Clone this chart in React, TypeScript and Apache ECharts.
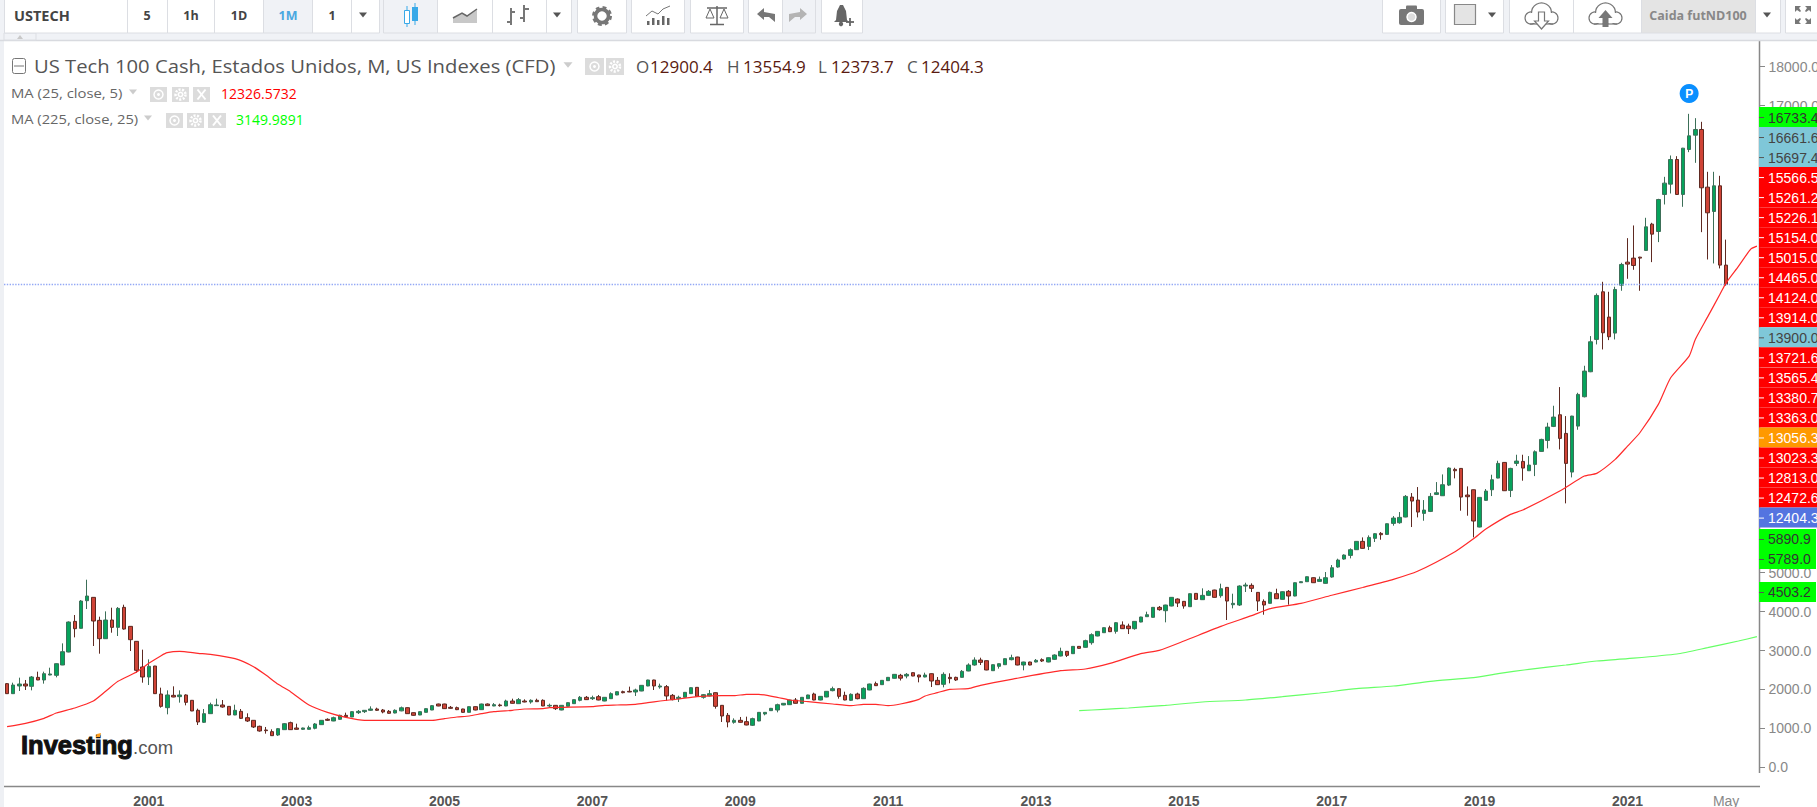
import React, { useEffect, useRef } from "react";
import * as echarts from "echarts";

// Monthly candles Feb 1999 .. May 2022 (index 0 .. 279)
const opens = [
2149,1892,2089,2140,2080,2311,2243,2371,2363,2628,
2962,3749,3570,4280,4366,3775,3304,3784,3595,4109,
3621,3236,2577,2320,2602,1883,1532,1849,1815,1858,
1721,1464,1156,1378,1584,1601,1566,1344,1438,1275,
1207,1053,959,916,830,967,1147,1010,976,976,
1002,1096,1233,1190,1233,1335,1293,1404,1430,1464,
1498,1472,1438,1395,1450,1532,1404,1344,1412,1472,
1626,1626,1541,1532,1498,1412,1558,1481,1626,1575,
1601,1575,1703,1635,1703,1678,1721,1721,1575,1592,
1472,1566,1635,1721,1798,1763,1815,1703,1763,1858,
1943,1952,1935,1960,2089,2243,2063,2072,1849,1763,
1798,1892,2054,1798,1832,1917,1592,1335,1156,1207,
1173,1079,1190,1370,1455,1472,1601,1609,1729,1644,
1763,1883,1729,1806,1969,2020,1849,1721,1883,1763,
1986,2149,2123,2226,2286,2363,2345,2431,2371,2320,
2405,2234,2131,2311,2311,2311,2474,2628,2756,2739,
2482,2594,2636,2765,2833,2628,2705,2705,2765,2705,
2773,2859,2979,2919,3107,3082,3201,3373,3458,3587,
3492,3655,3629,3561,3732,3869,3852,4109,4023,4143,
4323,4263,4126,4468,4306,4417,4554,4408,4622,4177,
4169,4657,4674,4494,4263,4212,4460,4314,4520,4400,
4742,4768,4871,4776,4725,4888,5145,5350,5444,5590,
5804,5675,5881,6009,5983,6266,6283,6429,6942,6865,
6523,6574,7011,6976,7250,7653,7678,6994,7130,6172,
6857,7130,7430,7832,7113,7807,7858,7618,7781,8115,
8397,8757,9056,8577,7584,8765,9519,10161,10991,12215,
11565,11154,12386,12977,13080,13105,13277,13953,13764,14715,
14980,15613,14715,15870,16238,16384,14903,14278,14937,12900.4,
];
const closes = [
1892,2114,2140,2089,2320,2243,2405,2397,2662,2970,
3732,3561,4271,4400,3758,3304,3784,3595,4083,3552,
3278,2491,2320,2594,1892,1566,1858,1806,1858,1669,
1447,1164,1378,1609,1601,1549,1344,1464,1258,1190,
1036,933,942,813,993,1121,967,976,1010,1019,
1113,1207,1207,1275,1335,1301,1430,1438,1464,1498,
1464,1421,1387,1464,1530,1378,1335,1430,1507,1584,
1575,1507,1515,1481,1412,1558,1472,1626,1584,1609,
1584,1703,1644,1738,1678,1721,1686,1575,1592,1507,
1592,1661,1738,1798,1738,1789,1729,1798,1892,1943,
1917,1935,1986,2106,2243,2089,2089,1832,1738,1798,
1926,2046,1823,1866,1892,1566,1318,1164,1207,1156,
1087,1250,1412,1412,1515,1609,1644,1729,1644,1798,
1858,1729,1823,1952,2020,1823,1729,1875,1763,2029,
2140,2097,2234,2311,2388,2290,2388,2345,2320,2371,
2217,2123,2388,2277,2243,2465,2628,2756,2696,2500,
2636,2662,2791,2816,2628,2705,2628,2748,2731,2816,
2885,2979,2876,3107,3056,3253,3407,3492,3587,3484,
3715,3561,3561,3749,3861,3920,4109,4049,4169,4366,
4220,4143,4460,4314,4417,4520,4366,4588,4271,4212,
4657,4682,4597,4271,4169,4494,4331,4511,4400,4742,
4768,4896,4742,4828,4871,5127,5324,5453,5590,5804,
5624,5906,6001,5975,6257,6403,6420,6959,6839,6557,
6608,6959,7053,7259,7687,7618,6942,6951,6326,6934,
7096,7387,7807,7105,7678,7867,7687,7764,8106,8423,
8740,8997,8449,7807,9022,9579,10178,10931,12121,11162,
11060,12275,12917,12926,12891,13080,13884,13696,14586,15006,
15613,14715,15904,16221,16384,14886,14244,14937,12900,12404.3,
];
const lows = [
1885,1885,1960,1986,1977,2240,2149,2365,2311,2625,
2955,3338,3565,4066,3116,2919,3300,3458,3373,3535,
2987,2431,2174,2114,1888,1532,1361,1800,1661,1592,
1443,1087,1138,1375,1575,1532,1340,1340,1241,1164,
1010,916,865,805,805,959,959,967,959,967,
976,1090,1190,1185,1216,1293,1290,1370,1395,1447,
1447,1387,1378,1387,1440,1375,1325,1340,1408,1468,
1570,1500,1505,1470,1405,1408,1465,1475,1578,1570,
1558,1570,1638,1630,1670,1635,1680,1570,1532,1472,
1465,1560,1630,1695,1730,1729,1722,1697,1757,1852,
1900,1930,1832,1955,2083,1986,2020,1712,1720,1678,
1790,1885,1815,1763,1823,1507,1164,1027,1121,1147,
1079,1061,1185,1335,1450,1412,1595,1602,1638,1638,
1757,1722,1722,1800,1952,1763,1722,1703,1746,1757,
1980,2089,2117,2220,2280,2230,2286,2340,2183,2311,
2063,2114,2054,2157,2217,2305,2468,2611,2628,2494,
2476,2534,2630,2748,2620,2491,2620,2696,2705,2698,
2756,2850,2833,2912,3050,3075,3150,3366,3450,3475,
3433,3555,3424,3535,3725,3861,3845,4023,3724,4136,
4117,4075,4120,4308,4300,4400,4360,4357,3784,4083,
4143,4503,4503,4015,3920,4205,4325,4308,4177,4393,
4735,4762,4735,4770,4718,4871,5127,5333,5367,5583,
5617,5581,5787,5846,5976,6206,6257,6422,6172,6420,
6334,6557,6994,6970,7225,7422,6591,6463,5906,6165,
6850,6968,7424,7098,6942,7738,7362,7612,7481,8108,
8192,8740,8166,6780,7447,8671,9502,10150,10863,10734,
10974,10991,12241,12549,12780,12241,13270,12977,13491,14458,
14740,14708,14398,15802,15528,13747,13045,12943,12815,12373.7,
];
const highs = [
2165,2174,2303,2243,2345,2457,2457,2559,2670,3184,
3749,3912,4297,4819,4370,3869,4006,4100,4117,4177,
3625,3240,3022,2773,2606,2046,1977,2080,1977,1875,
1725,1507,1498,1661,1763,1729,1570,1609,1498,1387,
1210,1070,1036,976,1010,1138,1173,1121,1019,1070,
1138,1210,1258,1301,1352,1404,1438,1472,1472,1566,
1532,1498,1472,1489,1560,1540,1410,1435,1515,1600,
1635,1632,1575,1560,1505,1565,1565,1635,1640,1650,
1635,1737,1763,1780,1746,1746,1763,1746,1635,1600,
1600,1670,1745,1832,1832,1840,1858,1805,1926,1950,
1969,2072,2020,2112,2250,2250,2149,2114,1883,1840,
1935,2055,2060,1883,1986,1925,1600,1395,1258,1293,
1301,1275,1420,1420,1525,1635,1652,1737,1780,1805,
1865,1917,1830,1960,2072,2028,1943,1900,1917,2054,
2148,2200,2242,2320,2397,2400,2422,2438,2378,2431,
2412,2320,2440,2414,2328,2500,2671,2825,2816,2746,
2644,2668,2798,2893,2840,2712,2712,2782,2799,2824,
2902,3073,2986,3114,3114,3278,3441,3500,3595,3638,
3732,3749,3689,3758,3868,3998,4116,4143,4176,4373,
4340,4271,4467,4475,4597,4554,4561,4717,4630,4460,
4674,4742,4725,4500,4314,4511,4588,4518,4554,4750,
4776,4904,4878,4900,5016,5196,5359,5470,5624,5811,
5906,5958,6018,6043,6264,6454,6557,6994,7045,7199,
6865,7045,7327,7524,7704,7695,7685,7216,7136,6940,
7148,7516,7875,7840,7695,8029,8029,7995,8141,8440,
8851,9288,9767,9022,9030,9621,10315,11077,12172,12472,
12215,12344,12960,13593,13919,13115,14116,13987,14603,15168,
15716,15699,15912,16786,16675,16581,15297,15297,15194,13554.9,
];

// [month index, value]
const ma25 = [
[0,1044],[3,1130],[6,1258],[8,1395],[11,1524],[14,1703],[16,1952],[18,2208],[21,2448],[23,2671],
[25,2868],[26,2945],[28,2979],[31,2928],[33,2902],[37,2790],[40,2585],[42,2371],[44,2131],[46,1943],
[49,1601],[52,1412],[55,1284],[58,1207],[64,1207],[69,1207],[71,1250],[73,1293],[75,1318],[77,1378],
[79,1430],[82,1464],[84,1498],[87,1507],[88,1532],[90,1541],[95,1558],[97,1592],[99,1601],[102,1618],
[104,1661],[106,1703],[109,1755],[112,1815],[116,1840],[118,1840],[120,1875],[122,1875],[125,1798],[127,1729],
[130,1686],[134,1626],[137,1584],[139,1618],[141,1618],[143,1584],[145,1626],[148,1746],[149,1832],[151,1917],
[153,2003],[156,2020],[158,2106],[163,2260],[171,2482],[175,2525],[179,2671],[184,2919],[187,3005],[191,3244],
[197,3621],[202,3895],[205,4075],[210,4212],[215,4420],[220,4620],[225,4828],[229,5042],[235,5538],[238,5872],
[240,6120],[244,6497],[246,6608],[252,7096],[256,7481],[258,7550],[261,7909],[263,8250],[265,8594],[268,9322],
[270,10007],[273,10563],[274,10991],[276,11570],[278,12150],[279,12446],[281,12870],[283,13310],[284,13388],
];
const ma225 = [
[174,1455],[178,1489],[182,1524],[188,1592],[194,1678],[201,1729],[207,1815],[213,1909],[219,2020],[225,2089],
[231,2208],[238,2303],[242,2405],[247,2517],[253,2628],[258,2731],[263,2791],[271,2910],[276,3073],[281,3244],[284,3356],
];

const lastClose = 12404.3;
const pinValue = 17308;
const pinIndex = 273;
const monthNames = ["Jan","Feb","Mar","Apr","May","Jun","Jul","Aug","Sep","Oct","Nov","Dec"];
const axisValues = [0,1000,2000,3000,4000,5000,17000,18000];
const title = "US Tech 100 Cash, Estados Unidos, M, US Indexes (CFD)";
const ohlcReadout = [["O","12900.4"],["H","13554.9"],["L","12373.7"],["C","12404.3"]];
const priceTagLabels = ["16733.4","16661.6","15697.4","15566.5","15261.2","15226.1","15154.0","15015.0","14465.0","14124.0","13914.0","13900.0","13721.6","13565.4","13380.7","13363.0","13056.3","13023.3","12813.0","12472.6","12404.3"];
const priceTagKinds = ["g","c","c","r","r","r","r","r","r","r","r","c","r","r","r","r","o","r","r","r","b"];
const lowTagLabels = [["5890.9",539],["5789.0",559],["4503.2",592]];

const categories: string[] = [];
for (let k = 0; k < 285; k++) {
  const m = k + 1;
  categories.push(`${1999 + Math.floor(m / 12)}-${monthNames[m % 12]}`);
}
const isTick = (i: number) => {
  const n = categories[i] || "";
  const [y, m] = n.split("-");
  return (m === "Jan" && +y % 2 === 1 && +y > 1999) || n === "2022-May";
};

const OS = '"Open Sans", sans-serif';
const AR = '"Liberation Sans", Arial, sans-serif';

function box(x: number, w: number, fill = "#fff"): any {
  return { type: "rect", shape: { x: x + 0.5, y: -1, width: w, height: 34 }, style: { fill, stroke: "#dcdee3", lineWidth: 1 }, z: 60 };
}
function txt(text: string, x: number, y: number, size: number, fill: string, extra: any = {}): any {
  return { type: "text", x, y, z: 70, scaleX: extra.scaleX || 1, style: { text, fill, font: `${extra.weight || "normal"} ${size}px ${extra.family || OS}`, textAlign: extra.align || "left", textVerticalAlign: "middle", textBaseline: "middle" } };
}
function tri(cx: number, cy: number, s = 4, fill = "#555"): any {
  return { type: "polygon", shape: { points: [[cx - s, cy - s * 0.6], [cx + s, cy - s * 0.6], [cx, cy + s * 0.6]] }, style: { fill }, z: 70 };
}
function ctlSquare(x: number, y: number, w: number, h: number, kind: string): any[] {
  const cx = x + w / 2, cy = y + h / 2;
  const out: any[] = [{ type: "rect", shape: { x, y, width: w, height: h }, style: { fill: "#dcdcdc" }, z: 70 }];
  if (kind === "x") {
    out.push({ type: "line", shape: { x1: cx - 4, y1: cy - 5, x2: cx + 4, y2: cy + 5 }, style: { stroke: "#fff", lineWidth: 2 }, z: 71 });
    out.push({ type: "line", shape: { x1: cx + 4, y1: cy - 5, x2: cx - 4, y2: cy + 5 }, style: { stroke: "#fff", lineWidth: 2 }, z: 71 });
  } else if (kind === "eye") {
    out.push({ type: "circle", shape: { cx, cy, r: 4.5 }, style: { fill: "none", stroke: "#fff", lineWidth: 1.5 }, z: 71 });
    out.push({ type: "circle", shape: { cx, cy, r: 1.5 }, style: { fill: "#fff" }, z: 71 });
  } else {
    out.push({ type: "circle", shape: { cx, cy, r: 5 }, style: { fill: "none", stroke: "#fff", lineWidth: 2.5, lineDash: [2, 1.5] }, z: 71 });
    out.push({ type: "circle", shape: { cx, cy, r: 3 }, style: { fill: "#fff" }, z: 71 });
    out.push({ type: "circle", shape: { cx, cy, r: 1.3 }, style: { fill: "#dcdcdc" }, z: 72 });
  }
  return out;
}
function cloud(x: number, y: number, up: boolean): any[] {
  const s = { fill: "#fff", stroke: "#777", lineWidth: 1.2 };
  const out: any[] = [
    { type: "circle", shape: { cx: x + 6, cy: y + 15, r: 6 }, style: s, z: 70 },
    { type: "circle", shape: { cx: x + 27, cy: y + 15, r: 6 }, style: s, z: 70 },
    { type: "circle", shape: { cx: x + 16.5, cy: y + 10, r: 10 }, style: s, z: 70 },
    { type: "rect", shape: { x: x + 6, y: y + 10, width: 21, height: 10 }, style: { fill: "#fff" }, z: 71 },
    { type: "line", shape: { x1: x + 5, y1: y + 21, x2: x + 28, y2: y + 21 }, style: { stroke: "#777", lineWidth: 1.2 }, z: 71 },
  ];
  const cx = x + 16.5;
  const pts = up
    ? [[cx, y + 7], [cx + 7, y + 15], [cx + 3, y + 15], [cx + 3, y + 24], [cx - 3, y + 24], [cx - 3, y + 15], [cx - 7, y + 15]]
    : [[cx, y + 26], [cx + 7, y + 18], [cx + 3, y + 18], [cx + 3, y + 9], [cx - 3, y + 9], [cx - 3, y + 18], [cx - 7, y + 18]];
  out.push({ type: "polygon", shape: { points: pts }, style: up ? { fill: "#777" } : { fill: "#fff", stroke: "#777", lineWidth: 1.2 }, z: 72 });
  return out;
}

function toolbar(): any[] {
  const g: any[] = [];
  g.push({ type: "rect", shape: { x: 0, y: 0, width: 1817, height: 40 }, style: { fill: "#f0f2f6" }, z: 50 });
  g.push({ type: "rect", shape: { x: 0, y: 40, width: 4, height: 767 }, style: { fill: "#eef0f4" }, z: 50 });
  g.push({ type: "line", shape: { x1: 0, y1: 40.5, x2: 1817, y2: 40.5 }, style: { stroke: "#d8dadf", lineWidth: 1.5 }, z: 51 });
  g.push({ type: "rect", shape: { x: 4, y: 33, width: 32, height: 7 }, style: { fill: "#f0f2f6", stroke: "#dcdee3" }, z: 51 });
  g.push({ type: "polygon", shape: { points: [[17, 39], [23, 39], [20, 35]] }, style: { fill: "#c8c8c8" }, z: 52 });
  // left cells
  g.push(box(4, 123), box(127, 40), box(167, 47), box(214, 49), box(263, 49, "#f0f2f6"), box(312, 39), box(351, 28));
  g.push(box(383, 54, "#f0f2f6"), box(437, 55), box(492, 54), box(546, 25), box(577, 49), box(631, 53), box(690, 53), box(748, 34), box(782, 33, "#f0f2f6"), box(821, 41));
  g.push(box(1382, 58), box(1445, 58), box(1509, 64), box(1573, 68), box(1641, 114, "#e4e4e4"), box(1755, 25), box(1785, 40));
  g.push(txt("USTECH", 14, 15.5, 14.5, "#444", { weight: "bold" }));
  g.push(txt("5", 147, 15.5, 12.5, "#444", { weight: "bold", align: "center" }));
  g.push(txt("1h", 191, 15.5, 12.5, "#444", { weight: "bold", align: "center" }));
  g.push(txt("1D", 239, 15.5, 12.5, "#444", { weight: "bold", align: "center" }));
  g.push(txt("1M", 288, 15.5, 12.5, "#4aa8e0", { weight: "bold", align: "center" }));
  g.push(txt("1", 332, 15.5, 12.5, "#444", { weight: "bold", align: "center" }));
  g.push(tri(363, 15), tri(557, 15), tri(1492, 15), tri(1767, 15));
  // candle icon
  g.push({ type: "line", shape: { x1: 407, y1: 6, x2: 407, y2: 27 }, style: { stroke: "#39a9e8", lineWidth: 1 }, z: 70 });
  g.push({ type: "rect", shape: { x: 404.5, y: 10.5, width: 5, height: 13 }, style: { fill: "#fff", stroke: "#39a9e8", lineWidth: 1 }, z: 71 });
  g.push({ type: "line", shape: { x1: 415, y1: 3, x2: 415, y2: 25 }, style: { stroke: "#39a9e8", lineWidth: 1 }, z: 70 });
  g.push({ type: "rect", shape: { x: 412, y: 7, width: 6, height: 14 }, style: { fill: "#39a9e8" }, z: 71 });
  // area/line icon
  g.push({ type: "polygon", shape: { points: [[453, 23], [453, 18], [462, 13], [467, 16], [477, 9], [477, 23]] }, style: { fill: "#c8c8c8" }, z: 70 });
  g.push({ type: "polyline", shape: { points: [[453, 18], [462, 13], [467, 16], [477, 9]] }, style: { stroke: "#666", lineWidth: 1.5, fill: "none" }, z: 71 });
  // OHLC bars icon
  g.push({ type: "line", shape: { x1: 511, y1: 8, x2: 511, y2: 25 }, style: { stroke: "#777", lineWidth: 2 }, z: 70 });
  g.push({ type: "line", shape: { x1: 507, y1: 22, x2: 511, y2: 22 }, style: { stroke: "#777", lineWidth: 2 }, z: 70 });
  g.push({ type: "line", shape: { x1: 511, y1: 12, x2: 515, y2: 12 }, style: { stroke: "#777", lineWidth: 2 }, z: 70 });
  g.push({ type: "line", shape: { x1: 524, y1: 5, x2: 524, y2: 22 }, style: { stroke: "#777", lineWidth: 2 }, z: 70 });
  g.push({ type: "line", shape: { x1: 520, y1: 18, x2: 524, y2: 18 }, style: { stroke: "#777", lineWidth: 2 }, z: 70 });
  g.push({ type: "line", shape: { x1: 524, y1: 9, x2: 529, y2: 9 }, style: { stroke: "#777", lineWidth: 2 }, z: 70 });
  // gear
  g.push({ type: "circle", shape: { cx: 602, cy: 16, r: 8 }, style: { fill: "none", stroke: "#777", lineWidth: 4, lineDash: [3.5, 2.8] }, z: 70 });
  g.push({ type: "circle", shape: { cx: 602, cy: 16, r: 6.5 }, style: { fill: "none", stroke: "#777", lineWidth: 3.5 }, z: 70 });
  // study icon
  [[647, 21], [652, 18], [657, 20], [662, 16], [667, 18]].forEach(([x, y]) => g.push({ type: "rect", shape: { x, y, width: 2.5, height: 25 - y }, style: { fill: "#666" }, z: 70 }));
  g.push({ type: "polyline", shape: { points: [[646, 16], [652, 11], [658, 14], [663, 9], [670, 6]] }, style: { stroke: "#777", lineWidth: 1, fill: "none" }, z: 70 });
  // balance
  g.push({ type: "line", shape: { x1: 707, y1: 8, x2: 727, y2: 8 }, style: { stroke: "#666", lineWidth: 1.5 }, z: 70 });
  g.push({ type: "line", shape: { x1: 717, y1: 6, x2: 717, y2: 24 }, style: { stroke: "#666", lineWidth: 1.5 }, z: 70 });
  g.push({ type: "line", shape: { x1: 710, y1: 24.5, x2: 724, y2: 24.5 }, style: { stroke: "#666", lineWidth: 1.5 }, z: 70 });
  g.push({ type: "polygon", shape: { points: [[710, 9], [706, 18], [714, 18]] }, style: { fill: "none", stroke: "#666" }, z: 70 });
  g.push({ type: "polygon", shape: { points: [[724, 9], [720, 18], [728, 18]] }, style: { fill: "none", stroke: "#666" }, z: 70 });
  // undo / redo
  g.push({ type: "polygon", shape: { points: [[757, 14], [764, 8], [764, 12], [775, 14], [775, 22], [769, 17], [764, 17], [764, 20]] }, style: { fill: "#777" }, z: 70 });
  g.push({ type: "polygon", shape: { points: [[807, 14], [800, 8], [800, 12], [789, 14], [789, 22], [795, 17], [800, 17], [800, 20]] }, style: { fill: "#b4b4b4" }, z: 70 });
  // bell
  g.push({ type: "polygon", shape: { points: [[840, 5], [843, 5], [846, 11], [847, 20], [849, 22], [834, 22], [836, 20], [837, 11]] }, style: { fill: "#666" }, z: 70 });
  g.push({ type: "circle", shape: { cx: 841, cy: 24, r: 2.2 }, style: { fill: "#666" }, z: 70 });
  g.push({ type: "line", shape: { x1: 846, y1: 22, x2: 854, y2: 22 }, style: { stroke: "#666", lineWidth: 1.8 }, z: 71 });
  g.push({ type: "line", shape: { x1: 850, y1: 18, x2: 850, y2: 26 }, style: { stroke: "#666", lineWidth: 1.8 }, z: 71 });
  // camera
  g.push({ type: "rect", shape: { x: 1399, y: 9, width: 25, height: 16, r: 2 }, style: { fill: "#777" }, z: 70 });
  g.push({ type: "rect", shape: { x: 1406, y: 5.5, width: 11, height: 5, r: 1 }, style: { fill: "#777" }, z: 70 });
  g.push({ type: "circle", shape: { cx: 1411.5, cy: 17, r: 4.5 }, style: { fill: "#ddd", stroke: "#fff", lineWidth: 1.5 }, z: 71 });
  // colour box
  g.push({ type: "rect", shape: { x: 1454.5, y: 4.5, width: 21, height: 20 }, style: { fill: "#e4e4e4", stroke: "#888", lineWidth: 1.2 }, z: 70 });
  g.push(...cloud(1525, 3, false), ...cloud(1589, 3, true));
  g.push(txt("Caida futND100", 1698, 15, 12.5, "#888", { weight: "bold", align: "center" }));
  // fullscreen arrows
  [[1795, 6, 1, 1], [1811, 6, -1, 1], [1795, 24, 1, -1], [1811, 24, -1, -1]].forEach(([x, y, sx, sy]) =>
    g.push({ type: "polygon", shape: { points: [[x, y], [x + 6 * sx, y], [x + 4 * sx, y + 2 * sy], [x + 6 * sx, y + 5 * sy], [x + 5 * sx, y + 6 * sy], [x + 2 * sx, y + 4 * sy], [x, y + 6 * sy]] }, style: { fill: "#777" }, z: 70 }));
  return g;
}

function legendRows(): any[] {
  const g: any[] = [];
  g.push({ type: "rect", shape: { x: 12.5, y: 58.5, width: 13, height: 15, r: 2 }, style: { fill: "#fff", stroke: "#777", lineWidth: 1 }, z: 60 });
  g.push({ type: "line", shape: { x1: 14, y1: 66, x2: 24, y2: 66 }, style: { stroke: "#777", lineWidth: 1 }, z: 61 });
  g.push(txt(title, 34, 66, 18, "#555", { scaleX: 1.125 }));
  g.push(tri(568, 65, 4.5, "#ccc"));
  g.push(...ctlSquare(585, 58, 19, 17, "eye"), ...ctlSquare(606, 58, 18, 17, "gear"));
  const xs = [[636, 650], [727, 743], [818, 831], [907, 921]];
  ohlcReadout.forEach(([l, v], k) => {
    g.push(txt(l, xs[k][0], 66, 17, "#555"));
    g.push(txt(v, xs[k][1], 66, 17, "#5a1a10"));
  });
  g.push(txt("MA (25, close, 5)", 11, 93, 13.5, "#666", { scaleX: 1.1 }));
  g.push(tri(133, 92, 4, "#ccc"));
  g.push(...ctlSquare(150, 87, 17, 15, "eye"), ...ctlSquare(172, 87, 17, 15, "gear"), ...ctlSquare(193, 87, 17, 15, "x"));
  g.push(txt("12326.5732", 221, 93, 14, "#ff0000"));
  g.push(txt("MA (225, close, 25)", 11, 119, 13.5, "#666", { scaleX: 1.09 }));
  g.push(tri(148, 118, 4, "#ccc"));
  g.push(...ctlSquare(166, 113, 17, 15, "eye"), ...ctlSquare(187, 113, 17, 15, "gear"), ...ctlSquare(208, 113, 18, 15, "x"));
  g.push(txt("3149.9891", 236, 119, 14, "#00ff00"));
  return g;
}

function tags(): any[] {
  const g: any[] = [];
  const style: Record<string, [string, string]> = {
    g: ["#00ff00", "#333"], c: ["#7fc7d8", "#444"], r: ["#ff0000", "#fff"], o: ["#ff9900", "#fff"], b: ["#5474e0", "#fff"],
  };
  priceTagLabels.forEach((label, k) => {
    const y = 107 + k * 20.03;
    const [fill, color] = style[priceTagKinds[k]];
    g.push({ type: "rect", shape: { x: 1759, y, width: 58, height: 20 }, style: { fill }, z: 60 });
    g.push({ type: "line", shape: { x1: 1759, y1: y + 10.5, x2: 1764, y2: y + 10.5 }, style: { stroke: color === "#fff" ? "#fff" : "#555", lineWidth: 1 }, z: 61 });
    g.push(txt(label, 1768, y + 10.5, 14, color, { family: AR }));
  });
  lowTagLabels.forEach(([label, y]: any) => {
    g.push({ type: "rect", shape: { x: 1759, y: y - 10, width: 57, height: 20 }, style: { fill: "#00ff00" }, z: 60 });
    g.push({ type: "line", shape: { x1: 1759, y1: y + 0.5, x2: 1764, y2: y + 0.5 }, style: { stroke: "#555", lineWidth: 1 }, z: 61 });
    g.push(txt(label, 1768, y, 14, "#333", { family: AR }));
  });
  return g;
}

function logo(): any[] {
  return [
    { type: "text", x: 21, y: 745, z: 40, style: { text: "Investing", fill: "#111", stroke: "#111", lineWidth: 1, font: `bold 25.5px ${AR}`, textBaseline: "middle", textVerticalAlign: "middle" } },
    { type: "text", x: 133, y: 747, z: 40, style: { text: ".com", fill: "#555", font: `18.5px ${AR}`, textBaseline: "middle", textVerticalAlign: "middle" } },
    { type: "polygon", shape: { points: [[97, 734], [101, 733], [100, 737], [96, 737]] }, style: { fill: "#ff9f1c" }, z: 41 },
  ];
}

export default function App() {
  const ref = useRef<HTMLDivElement>(null);
  useEffect(() => {
    const chart = echarts.init(ref.current!, undefined, { renderer: "svg" });
    const candles = opens.map((o, i) => [o, closes[i], lows[i], highs[i]]);
    chart.setOption({
      animation: false,
      backgroundColor: "#fff",
      grid: { left: 4, right: 57, top: 40.5, bottom: 21, outerBoundsMode: "none" },
      xAxis: {
        type: "category",
        data: categories,
        min: 0,
        max: 284,
        boundaryGap: true,
        axisLine: { show: false, onZero: false },
        axisTick: { length: 4, alignWithLabel: true, interval: (i: number) => isTick(i), lineStyle: { color: "#888" } },
        axisLabel: {
          interval: (i: number) => isTick(i),
          margin: 7.5,
          formatter: (v: string) => {
            const [y, m] = v.split("-");
            return m === "Jan" ? `{y|${y}}` : `{m|${m}}`;
          },
          rich: {
            y: { fontFamily: AR, fontSize: 14, fontWeight: "bold", color: "#555" },
            m: { fontFamily: AR, fontSize: 14, color: "#888" },
          },
        },
        splitLine: { show: false },
      },
      yAxis: {
        type: "value",
        position: "right",
        min: -480,
        max: 18670,
        axisLine: { show: false },
        axisTick: { show: true, length: 5, customValues: axisValues, lineStyle: { color: "#888" } },
        axisLabel: { customValues: axisValues, margin: 8.5, color: "#888", fontFamily: AR, fontSize: 14, formatter: (v: number) => v.toFixed(1) },
        splitLine: { show: false },
      },
      series: [
        {
          type: "candlestick",
          data: candles,
          barWidth: 4,
          itemStyle: {
            color: "#06a35c",
            color0: "#cf4336",
            borderColor: "#3c6f58",
            borderColor0: "#5f2a22",
            borderWidth: 1,
          },
          markLine: {
            silent: true,
            symbol: "none",
            label: { show: false },
            lineStyle: { color: "#93a8f5", type: "dotted", width: 1.4 },
            data: [{ yAxis: lastClose }],
          },
          markPoint: {
            silent: true,
            symbol: "circle",
            symbolSize: 19,
            itemStyle: { color: "#0a8fff" },
            label: { show: true, formatter: "P", color: "#fff", fontFamily: AR, fontWeight: "bold", fontSize: 12 },
            data: [{ coord: [pinIndex, pinValue] }],
          },
        },
        {
          type: "line",
          data: ma25,
          showSymbol: false,
          smooth: 0.2,
          lineStyle: { color: "#ff2a2a", width: 1.2 },
          z: 5,
        },
        {
          type: "line",
          data: ma225,
          showSymbol: false,
          smooth: 0.2,
          lineStyle: { color: "#66ff66", width: 1.2 },
          z: 5,
        },
      ],
      graphic: { elements: [
        { type: "line", shape: { x1: 1759.5, y1: 41, x2: 1759.5, y2: 773 }, style: { stroke: "#888", lineWidth: 1.5 }, z: 30 },
        { type: "line", shape: { x1: 4, y1: 786.5, x2: 1760, y2: 786.5 }, style: { stroke: "#888", lineWidth: 1.5 }, z: 30 },
        ...logo(), ...toolbar(), ...legendRows(), ...tags(),
      ] },
    });
    return () => chart.dispose();
  }, []);
  return <div ref={ref} style={{ position: "fixed", left: 0, top: 0, width: 1817, height: 807 }} />;
}
